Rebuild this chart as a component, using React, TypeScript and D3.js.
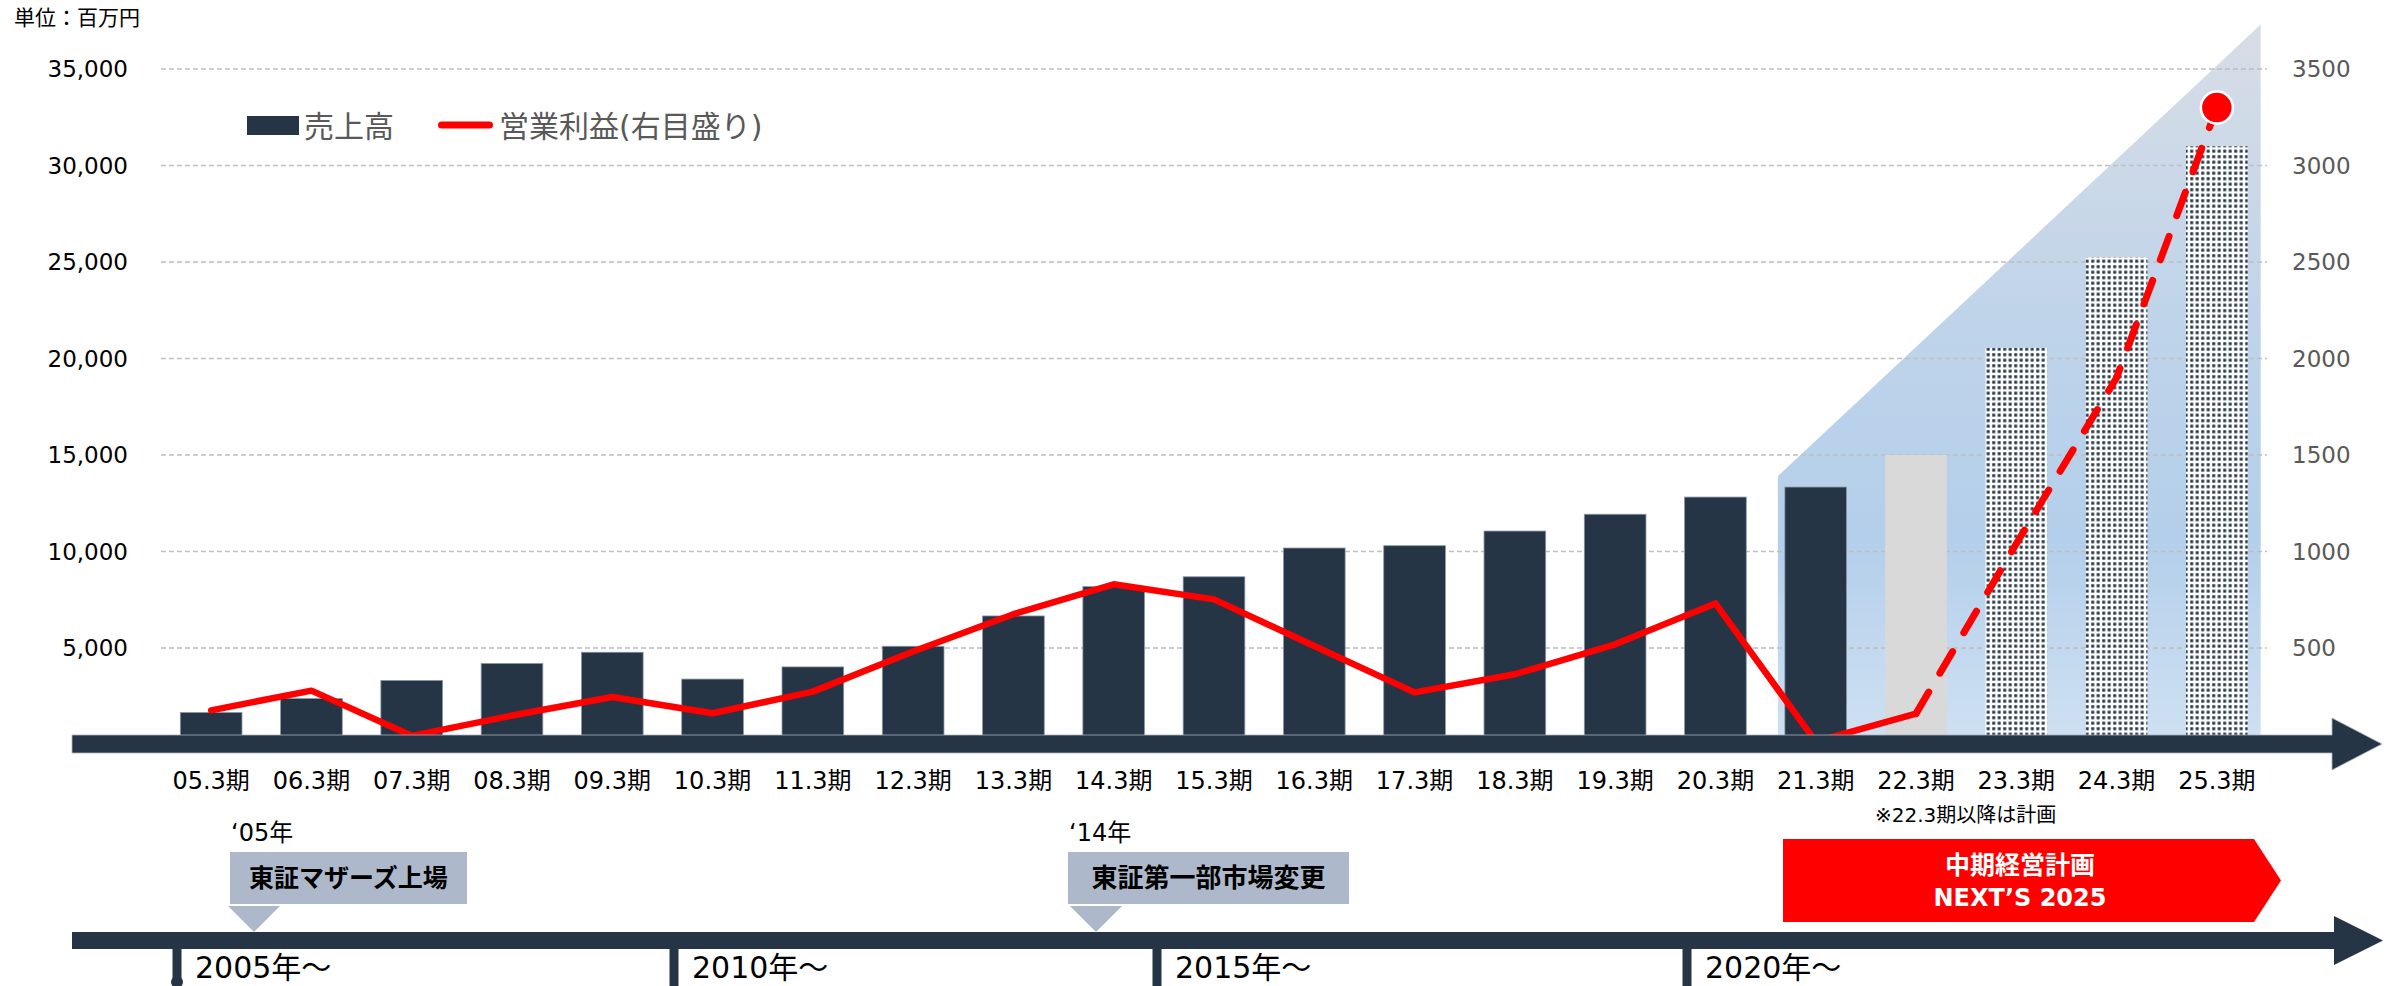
import React from 'react';
import * as d3 from 'd3';

// ---------- data ----------
const categories = [
  '05.3期', '06.3期', '07.3期', '08.3期', '09.3期', '10.3期', '11.3期',
  '12.3期', '13.3期', '14.3期', '15.3期', '16.3期', '17.3期', '18.3期',
  '19.3期', '20.3期', '21.3期', '22.3期', '23.3期', '24.3期', '25.3期',
];
// 売上高 (百万円)
const sales = [
  1660, 2380, 3320, 4200, 4780, 3390, 4020,
  5090, 6660, 8180, 8690, 10180, 10300, 11060,
  11930, 12820, 13340, 15000, 20550, 25250, 31000,
];
// 営業利益 (百万円, 右目盛り)
const profit = [
  177, 279, 45, 150, 246, 162, 274,
  482, 675, 830, 752, 510, 270, 364,
  519, 731, 15, 160, 1040, 1900, 3300,
];
// bar kind: actual / current-year forecast / plan
const barKind = [
  'actual', 'actual', 'actual', 'actual', 'actual', 'actual', 'actual',
  'actual', 'actual', 'actual', 'actual', 'actual', 'actual', 'actual',
  'actual', 'actual', 'actual', 'forecast', 'plan', 'plan', 'plan',
];
const leftTicks = [5000, 10000, 15000, 20000, 25000, 30000, 35000];
const rightTicks = [500, 1000, 1500, 2000, 2500, 3000, 3500];
const seriesNames = ['売上高', '営業利益(右目盛り)'];
const timelineLabels = ['2005年〜', '2010年〜', '2015年〜', '2020年〜'];
const eventYears = ['‘05年', '‘14年'];
const eventTexts = ['東証マザーズ上場', '東証第一部市場変更'];
const planTitle = ['中期経営計画', 'NEXT’S 2025'];
const unitLabel = '単位：百万円';
const planNote = '※22.3期以降は計画';

// ---------- layout ----------
const W = 2402;
const H = 986;
const FONT = "'DejaVu Sans', 'Noto Sans CJK JP', sans-serif";
const NAVY = '#253545';
const RED = '#ff0000';
const timelineTickX = [177, 674, 1157, 1687];
const eventBoxX = [230, 1068];
const eventBoxW = [237, 281];
const eventFont = [25, 26];
const eventArrowX = [254, 1096];

export default function App() {
  const x = d3
    .scaleBand<string>()
    .domain(categories)
    .range([161, 2267])
    .paddingInner(0.385)
    .paddingOuter(0.1925);
  const y = d3.scaleLinear().domain([0, 35000]).range([744.5, 69]);
  const yR = d3.scaleLinear().domain([0, 3500]).range([744.5, 69]);
  const bw = x.bandwidth();
  const cx = (c: string) => (x(c) as number) + bw / 2;

  const pts: [number, number][] = categories.map((c, i) => [cx(c), yR(profit[i])]);
  const line = d3.line();
  const solidPath = line(pts.slice(0, 18)) || '';
  const dashPath = line(pts.slice(17)) || '';
  const last = pts[pts.length - 1];

  // plan background area
  const areaLeft = (x('21.3期') as number) - 7;
  const areaRight = (x('25.3期') as number) + bw + 13;
  const areaPts = [
    [areaLeft, y(0)],
    [areaLeft, y(13900)],
    [areaRight, y(37300)],
    [areaRight, y(0)],
  ]
    .map((p) => p.join(','))
    .join(' ');

  const axisY = 744;
  const tlY = 940.5;

  return (
    <div style={{ position: 'absolute', left: 0, top: 0 }}>
      <svg width={W} height={H} style={{ display: 'block', fontFamily: FONT }}>
        <defs>
          <linearGradient id="planGrad" gradientUnits="userSpaceOnUse" x1="0" y1="24" x2="0" y2="744">
            <stop offset="0" stopColor="#d7dde6" />
            <stop offset="0.45" stopColor="#bdd3ea" />
            <stop offset="0.72" stopColor="#b4cfeb" />
            <stop offset="1" stopColor="#cfe1f2" />
          </linearGradient>
          <pattern id="dots" width="5.5" height="5.5" patternUnits="userSpaceOnUse">
            <rect width="5.5" height="5.5" fill="#ffffff" />
            <rect x="1.2" y="1.2" width="3" height="3" fill={NAVY} />
          </pattern>
        </defs>

        <rect width={W} height={H} fill="#ffffff" />

        {/* unit label */}
        <text x={14} y={18} fontSize={21} dominantBaseline="central" fill="#000">
          {unitLabel}
        </text>

        {/* plan area */}
        <polygon points={areaPts} fill="url(#planGrad)" />

        {/* gridlines */}
        {leftTicks.map((t) => (
          <line
            key={'g' + t}
            x1={161}
            x2={2267}
            y1={y(t)}
            y2={y(t)}
            stroke="#bfbfbf"
            strokeWidth={1.3}
            strokeDasharray="5 3"
          />
        ))}

        {/* left axis labels */}
        {leftTicks.map((t) => (
          <text
            key={'l' + t}
            x={128}
            y={y(t)}
            fontSize={23}
            textAnchor="end"
            dominantBaseline="central"
            fill="#000"
          >
            {d3.format(',')(t)}
          </text>
        ))}
        {/* right axis labels */}
        {rightTicks.map((t) => (
          <text
            key={'r' + t}
            x={2292}
            y={yR(t)}
            fontSize={23}
            textAnchor="start"
            dominantBaseline="central"
            fill="#595959"
          >
            {t}
          </text>
        ))}

        {/* bars */}
        {categories.map((c, i) => {
          const kind = barKind[i];
          const fill = kind === 'actual' ? NAVY : kind === 'forecast' ? '#d9d9d9' : 'url(#dots)';
          return (
            <rect
              key={c}
              x={x(c)}
              y={y(sales[i])}
              width={bw}
              height={y(0) - y(sales[i])}
              fill={fill}
              stroke={kind === 'actual' ? '#8a97a5' : 'none'}
              strokeWidth={0.8}
            />
          );
        })}

        {/* profit line */}
        <path d={solidPath} fill="none" stroke={RED} strokeWidth={6.5} strokeLinejoin="round" strokeLinecap="round" />
        <path
          d={dashPath}
          fill="none"
          stroke={RED}
          strokeWidth={7}
          strokeLinecap="round"
          strokeLinejoin="round"
          strokeDasharray="25 22"
        />
        <circle cx={last[0]} cy={last[1]} r={16} fill={RED} stroke="#ffffff" strokeWidth={2.5} />

        {/* x axis arrow (drawn over the line) */}
        <polygon
          points={`72,735 2332,735 2332,718 2382,${axisY} 2332,770 2332,753 72,753`}
          fill={NAVY}
          stroke="#a9b3be"
          strokeWidth={0.8}
        />

        {/* category labels */}
        {categories.map((c) => (
          <text key={'x' + c} x={cx(c)} y={781} fontSize={24} textAnchor="middle" dominantBaseline="central" fill="#000">
            {c}
          </text>
        ))}

        {/* legend */}
        <rect x={247} y={116} width={52} height={19} fill={NAVY} />
        <text x={304} y={126} fontSize={30} dominantBaseline="central" fill="#595959">
          {seriesNames[0]}
        </text>
        <line x1={441.5} x2={489.5} y1={125} y2={125} stroke={RED} strokeWidth={7} strokeLinecap="round" />
        <text x={499} y={126} fontSize={30} dominantBaseline="central" fill="#595959">
          {seriesNames[1]}
        </text>

        {/* plan note */}
        <text x={1875} y={815} fontSize={20} dominantBaseline="central" fill="#000">
          {planNote}
        </text>

        {/* events */}
        {eventTexts.map((t, i) => (
          <g key={'ev' + i}>
            <text x={eventBoxX[i] + 1} y={833} fontSize={24} dominantBaseline="central" fill="#000">
              {eventYears[i]}
            </text>
            <rect x={eventBoxX[i]} y={852} width={eventBoxW[i]} height={52} fill="#adb9ca" />
            <text
              x={eventBoxX[i] + eventBoxW[i] / 2}
              y={878}
              fontSize={eventFont[i]}
              fontWeight={700}
              textAnchor="middle"
              dominantBaseline="central"
              fill="#000"
            >
              {t}
            </text>
            <polygon
              points={`${eventArrowX[i] - 26},906 ${eventArrowX[i] + 26},906 ${eventArrowX[i]},932`}
              fill="#adb9ca"
            />
          </g>
        ))}

        {/* plan banner */}
        <polygon points="1783,839 2254,839 2281,880.5 2254,922 1783,922" fill={RED} />
        <text x={2020} y={865} fontSize={25} fontWeight={700} textAnchor="middle" dominantBaseline="central" fill="#fff">
          {planTitle[0]}
        </text>
        <text x={2020} y={898} fontSize={24} fontWeight={700} textAnchor="middle" dominantBaseline="central" fill="#fff">
          {planTitle[1]}
        </text>

        {/* timeline */}
        <polygon
          points={`72,932 2334,932 2334,916 2383,${tlY} 2334,965 2334,949 72,949`}
          fill={NAVY}
        />
        {timelineLabels.map((lab, i) => (
          <g key={'tl' + i}>
            <rect x={timelineTickX[i] - 4.5} y={948} width={9} height={i === 0 ? 34 : 40} fill={NAVY} />
            {i === 0 && <circle cx={timelineTickX[i]} cy={982} r={6} fill={NAVY} />}
            <text x={timelineTickX[i] + 18} y={967} fontSize={30} dominantBaseline="central" fill="#000">
              {lab}
            </text>
          </g>
        ))}
      </svg>
    </div>
  );
}
